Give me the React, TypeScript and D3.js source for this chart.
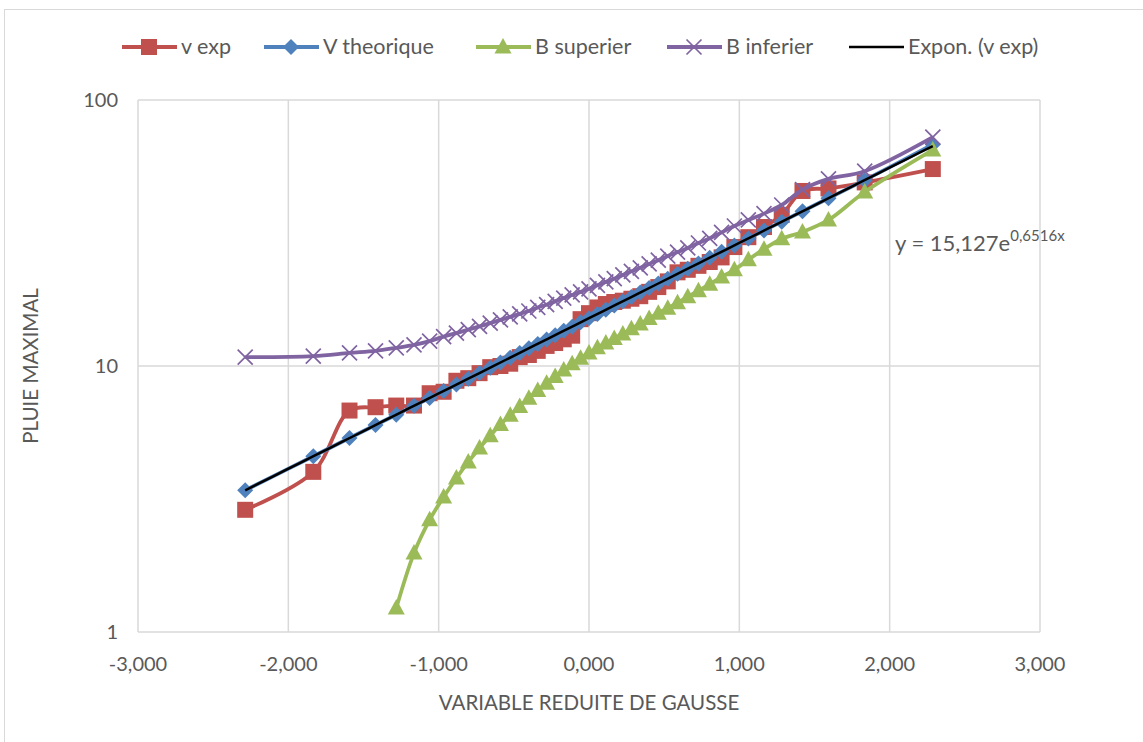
import { useRef, useEffect } from "react";
import * as d3 from "d3";

// reduced Gauss variable for each rank
const gaussU = [
  -2.287, -1.834, -1.593, -1.42, -1.282, -1.164, -1.06, -0.967, -0.882, -0.803,
  -0.728, -0.657, -0.589, -0.524, -0.461, -0.4, -0.341, -0.282, -0.225, -0.168,
  -0.112, -0.056, 0, 0.056, 0.112, 0.168, 0.225, 0.282, 0.341, 0.4,
  0.461, 0.524, 0.589, 0.657, 0.728, 0.803, 0.882, 0.967, 1.06, 1.164,
  1.282, 1.42, 1.593, 1.834, 2.287,
];

const vExp = [
  2.88, 4.0, 6.8, 7.0, 7.1, 7.1, 7.9, 8.0, 8.8, 9.0,
  9.4, 9.9, 10.0, 10.2, 10.8, 11.0, 11.4, 11.9, 12.2, 12.6,
  13.0, 15.0, 15.8, 16.6, 17.1, 17.4, 17.6, 17.9, 18.3, 19.0,
  19.8, 20.8, 22.5, 23.0, 23.8, 24.6, 25.6, 28.0, 30.5, 33.3,
  37.0, 45.5, 46.5, 49.0, 55.0,
];

const vTheo = [
  3.41, 4.58, 5.36, 6.0, 6.56, 7.09, 7.58, 8.06, 8.52, 8.96,
  9.41, 9.86, 10.31, 10.75, 11.2, 11.66, 12.11, 12.59, 13.06, 13.56,
  14.06, 14.59, 15.13, 15.69, 16.27, 16.88, 17.52, 18.18, 18.89, 19.63,
  20.43, 21.28, 22.2, 23.21, 24.31, 25.53, 26.87, 28.41, 30.18, 32.3,
  34.88, 38.15, 42.71, 49.96, 68.0,
];

// lower bound is only defined from the 5th rank on
const bSup = [
  null, null, null, null, 1.23, 1.98, 2.64, 3.22, 3.79, 4.36,
  4.92, 5.47, 6.03, 6.53, 7.05, 7.57, 8.09, 8.61, 9.14, 9.66,
  10.19, 10.7, 11.2, 11.7, 12.2, 12.7, 13.2, 13.8, 14.4, 15.1,
  15.8, 16.5, 17.3, 18.2, 19.2, 20.3, 21.6, 23.0, 25.1, 27.5,
  30.1, 31.9, 35.4, 45.1, 64.9,
];

const bInf = [
  10.8, 10.9, 11.2, 11.4, 11.7, 12.0, 12.4, 12.9, 13.3, 13.7,
  14.1, 14.5, 14.9, 15.3, 15.7, 16.1, 16.6, 17.0, 17.5, 18.0,
  18.5, 19.0, 19.5, 20.1, 20.7, 21.3, 22.0, 22.7, 23.4, 24.2,
  25.0, 25.9, 26.8, 27.8, 29.0, 30.2, 31.8, 33.6, 35.4, 37.4,
  40.3, 46.0, 50.5, 54.0, 72.5,
];

const trendA = 15.127;
const trendB = 0.6516;

const xTicks = [-3, -2, -1, 0, 1, 2, 3];
const yTicks = [1, 10, 100];

const series = [
  { name: "v exp", values: vExp, color: "#C0504D", marker: "square" },
  { name: "V theorique", values: vTheo, color: "#4F81BD", marker: "diamond" },
  { name: "B superier", values: bSup, color: "#9BBB59", marker: "triangle" },
  { name: "B inferier", values: bInf, color: "#8064A2", marker: "cross" },
];

const FONT = "Lato, 'Open Sans', sans-serif";
const TEXT = "#595959";

function drawMarker(g: any, kind: string, cx: number, cy: number, color: string) {
  if (kind === "square") {
    g.append("rect").attr("x", cx - 8).attr("y", cy - 8).attr("width", 16).attr("height", 16).attr("fill", color);
  } else if (kind === "diamond") {
    g.append("path").attr("d", `M${cx},${cy - 8}L${cx + 8},${cy}L${cx},${cy + 8}L${cx - 8},${cy}Z`).attr("fill", color);
  } else if (kind === "triangle") {
    g.append("path").attr("d", `M${cx},${cy - 9}L${cx + 8.5},${cy + 6.5}L${cx - 8.5},${cy + 6.5}Z`).attr("fill", color);
  } else {
    g.append("path")
      .attr("d", `M${cx - 7.5},${cy - 7.5}L${cx + 7.5},${cy + 7.5}M${cx - 7.5},${cy + 7.5}L${cx + 7.5},${cy - 7.5}`)
      .attr("stroke", color)
      .attr("stroke-width", 1.7);
  }
}

export default function App() {
  const svgRef = useRef<SVGSVGElement>(null);

  useEffect(() => {
    if (!svgRef.current) return;
    const svg = d3.select(svgRef.current);
    svg.selectAll("*").remove();

    const left = 138, right = 1040, top = 100, bottom = 632;
    const x = d3.scaleLinear().domain([-3, 3]).range([left, right]);
    const y = d3.scaleLog().domain([1, 100]).range([bottom, top]);

    // chart border
    svg.append("rect")
      .attr("x", 4.5).attr("y", 9.5).attr("width", 1160).attr("height", 760)
      .attr("fill", "#fff").attr("stroke", "#d9d9d9");

    // grid
    const grid = svg.append("g");
    xTicks.forEach((t) => {
      grid.append("line")
        .attr("x1", x(t)).attr("x2", x(t)).attr("y1", top).attr("y2", bottom)
        .attr("stroke", "#d9d9d9").attr("stroke-width", 1.5);
    });
    yTicks.forEach((t) => {
      grid.append("line")
        .attr("x1", left).attr("x2", right).attr("y1", y(t)).attr("y2", y(t))
        .attr("stroke", "#d9d9d9").attr("stroke-width", 1.5);
    });

    // tick labels
    xTicks.forEach((t) => {
      svg.append("text")
        .attr("x", x(t)).attr("y", bottom + 39)
        .attr("text-anchor", "middle")
        .attr("font-family", FONT).attr("font-size", 20).attr("fill", TEXT)
        .text(t.toFixed(3).replace(".", ","));
    });
    yTicks.forEach((t) => {
      svg.append("text")
        .attr("x", 118).attr("y", y(t) + 7)
        .attr("text-anchor", "end")
        .attr("font-family", FONT).attr("font-size", 20).attr("fill", TEXT)
        .text(String(t));
    });

    // axis titles
    svg.append("text")
      .attr("x", x(0)).attr("y", 710)
      .attr("text-anchor", "middle")
      .attr("font-family", FONT).attr("font-size", 20.5).attr("fill", TEXT)
      .text("VARIABLE REDUITE DE GAUSSE");
    svg.append("text")
      .attr("transform", `translate(38,${(top + bottom) / 2}) rotate(-90)`)
      .attr("text-anchor", "middle")
      .attr("font-family", FONT).attr("font-size", 20.5).attr("fill", TEXT)
      .text("PLUIE MAXIMAL");

    const line = d3.line<[number, number | null]>()
      .defined((d) => d[1] != null)
      .x((d) => x(d[0]))
      .y((d) => y(d[1] as number))
      .curve(d3.curveCatmullRom.alpha(0.5));

    series.forEach((s) => {
      const pts = gaussU.map((u, i) => [u, s.values[i]] as [number, number | null]);
      const g = svg.append("g");
      g.append("path")
        .datum(pts)
        .attr("d", line)
        .attr("fill", "none")
        .attr("stroke", s.color)
        .attr("stroke-width", 3.8)
        .attr("stroke-linejoin", "round");
      pts.forEach((p) => {
        if (p[1] == null) return;
        drawMarker(g, s.marker, x(p[0]), y(p[1]), s.color);
      });
    });

    // exponential trendline over the data range
    const u0 = d3.min(gaussU) as number;
    const u1 = d3.max(gaussU) as number;
    const trendPts = d3.range(0, 51).map((k) => {
      const u = u0 + ((u1 - u0) * k) / 50;
      return [u, trendA * Math.exp(trendB * u)] as [number, number];
    });
    svg.append("path")
      .datum(trendPts)
      .attr("d", d3.line<[number, number]>().x((d) => x(d[0])).y((d) => y(d[1])))
      .attr("fill", "none")
      .attr("stroke", "#000")
      .attr("stroke-width", 2.5);

    // equation label
    const eq = svg.append("text")
      .attr("x", 895).attr("y", 251)
      .attr("font-family", FONT).attr("font-size", 22).attr("fill", TEXT);
    eq.append("tspan").text(`y = ${String(trendA).replace(".", ",")}e`);
    eq.append("tspan").attr("dy", -10).attr("font-size", 15)
      .text(`${String(trendB).replace(".", ",")}x`);

    // legend
    const legendItems = [
      ...series.map((s) => ({ name: s.name, color: s.color, marker: s.marker })),
      { name: "Expon. (v exp)", color: "#000", marker: "none" },
    ];
    const legendX = [122, 264, 476, 667, 849];
    legendItems.forEach((it, i) => {
      const lx = legendX[i];
      const lg = svg.append("g");
      lg.append("line")
        .attr("x1", lx).attr("x2", lx + 55).attr("y1", 47).attr("y2", 47)
        .attr("stroke", it.color).attr("stroke-width", it.marker === "none" ? 2.5 : 3.8);
      if (it.marker !== "none") drawMarker(lg, it.marker, lx + 27, 47, it.color);
      lg.append("text")
        .attr("x", lx + 59).attr("y", 54)
        .attr("font-family", FONT).attr("font-size", 21.5).attr("fill", TEXT)
        .text(it.name);
    });
  }, []);

  return (
    <svg
      ref={svgRef}
      width={1143}
      height={742}
      style={{ position: "absolute", left: 0, top: 0, background: "#fff" }}
    />
  );
}
